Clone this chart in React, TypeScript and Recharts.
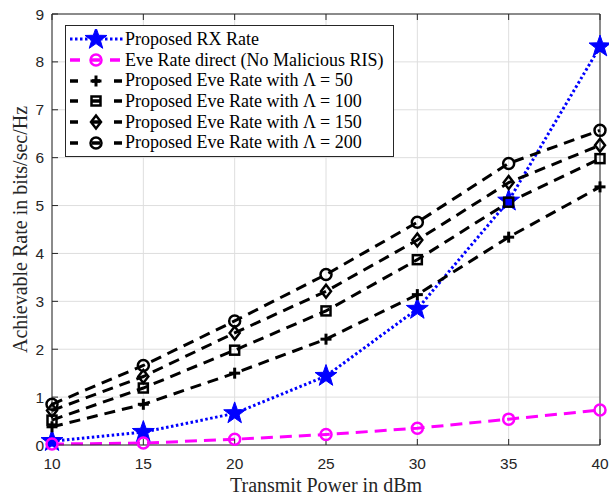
import React from 'react';
import { LineChart, Line, XAxis, YAxis, CartesianGrid, Legend } from 'recharts';

const powers = [10, 15, 20, 25, 30, 35, 40];
const rxRate = [0.08, 0.27, 0.66, 1.44, 2.84, 5.1, 8.32];
const eveDirect = [0.02, 0.04, 0.12, 0.22, 0.35, 0.54, 0.73];
const eve50 = [0.38, 0.85, 1.5, 2.21, 3.14, 4.34, 5.39];
const eve100 = [0.52, 1.19, 1.98, 2.8, 3.87, 5.07, 5.98];
const eve150 = [0.72, 1.43, 2.34, 3.21, 4.28, 5.48, 6.26];
const eve200 = [0.85, 1.66, 2.59, 3.56, 4.65, 5.88, 6.57];

const xTicks = [10, 15, 20, 25, 30, 35, 40];
const yTicks = [0, 1, 2, 3, 4, 5, 6, 7, 8, 9];

const data = powers.map((p, i) => ({
  power: p,
  rx: rxRate[i],
  direct: eveDirect[i],
  e50: eve50[i],
  e100: eve100[i],
  e150: eve150[i],
  e200: eve200[i],
}));

type MarkerKind = 'star' | 'circle' | 'plus' | 'square' | 'diamond';

const Marker = ({ kind, cx, cy, color }: { kind: MarkerKind; cx: number; cy: number; color: string }) => {
  if (kind === 'star') {
    const pts: string[] = [];
    for (let k = 0; k < 10; k++) {
      const r = k % 2 === 0 ? 11.5 : 4.6;
      const a = -Math.PI / 2 + (k * Math.PI) / 5;
      pts.push(`${cx + r * Math.cos(a)},${cy + r * Math.sin(a)}`);
    }
    return <polygon points={pts.join(' ')} fill={color} stroke={color} strokeWidth={1} />;
  }
  if (kind === 'circle') {
    return <circle cx={cx} cy={cy} r={5.5} fill="none" stroke={color} strokeWidth={2.5} />;
  }
  if (kind === 'square') {
    return <rect x={cx - 4.5} y={cy - 4.5} width={9} height={9} fill="none" stroke={color} strokeWidth={2.5} />;
  }
  if (kind === 'diamond') {
    return (
      <polygon
        points={`${cx},${cy - 6.5} ${cx + 5},${cy} ${cx},${cy + 6.5} ${cx - 5},${cy}`}
        fill="none"
        stroke={color}
        strokeWidth={2.5}
      />
    );
  }
  return (
    <g stroke={color} strokeWidth={3}>
      <line x1={cx - 5.5} x2={cx + 5.5} y1={cy} y2={cy} />
      <line x1={cx} x2={cx} y1={cy - 5.5} y2={cy + 5.5} />
    </g>
  );
};

const series = [
  { key: 'rx', name: 'Proposed RX Rate', color: '#0000ff', dash: '2.5 2.5', marker: 'star' as MarkerKind },
  { key: 'direct', name: 'Eve Rate direct (No Malicious RIS)', color: '#ff00ff', dash: '12 7', marker: 'circle' as MarkerKind },
  { key: 'e50', name: 'Proposed Eve Rate with \u039B = 50', color: '#000000', dash: '11 7', marker: 'plus' as MarkerKind },
  { key: 'e100', name: 'Proposed Eve Rate with \u039B = 100', color: '#000000', dash: '11 7', marker: 'square' as MarkerKind },
  { key: 'e150', name: 'Proposed Eve Rate with \u039B = 150', color: '#000000', dash: '11 7', marker: 'diamond' as MarkerKind },
  { key: 'e200', name: 'Proposed Eve Rate with \u039B = 200', color: '#000000', dash: '11 7', marker: 'circle' as MarkerKind },
];

const serif = '"Liberation Serif", "Times New Roman", serif';
const sans = '"Liberation Sans", Arial, sans-serif';
const axisColor = '#262626';

const LegendBox = () => (
  <div
    style={{
      border: '1px solid #262626',
      background: '#fff',
      padding: '3px 10px 3px 2px',
      fontFamily: serif,
      fontSize: 18,
      color: '#000',
    }}
  >
    {series.map((s) => (
      <div key={s.key} style={{ display: 'flex', alignItems: 'center', height: 20.7, whiteSpace: 'nowrap' }}>
        <svg width={57} height={20} style={{ flex: 'none' }}>
          <line
            x1={2}
            x2={55}
            y1={10}
            y2={10}
            stroke={s.color}
            strokeWidth={s.key === 'rx' ? 3 : 3.5}
            strokeDasharray={s.key === 'rx' ? '2.5 2.5' : s.key === 'direct' ? '10 10' : '8 14'}
          />
          <Marker kind={s.marker} cx={28} cy={10} color={s.color} />
        </svg>
        <span>{s.name}</span>
      </div>
    ))}
  </div>
);

export default function App() {
  return (
    <div style={{ position: 'absolute', left: 0, top: 0, width: 609, height: 495, background: '#fff' }}>
      <LineChart width={609} height={495} data={data} margin={{ top: 0, right: 0, bottom: 0, left: 0 }}>
        <CartesianGrid xAxisId="b" yAxisId="l" stroke="#dedede" strokeWidth={1} />
        <XAxis
          xAxisId="b"
          dataKey="power"
          type="number"
          domain={[10, 40]}
          ticks={xTicks}
          height={50}
          stroke={axisColor}
          tickSize={-6}
          tickMargin={19}
          tick={{ fontFamily: sans, fontSize: 15.5, fill: axisColor }}
          label={{ value: 'Transmit Power in dBm', position: 'insideBottom', offset: 3, fontFamily: serif, fontSize: 20, fill: axisColor }}
        />
        <XAxis
          xAxisId="t"
          orientation="top"
          dataKey="power"
          type="number"
          domain={[10, 40]}
          ticks={xTicks}
          height={14}
          stroke={axisColor}
          tickSize={-6}
          tickFormatter={() => ''}
        />
        <YAxis
          yAxisId="l"
          type="number"
          domain={[0, 9]}
          ticks={yTicks}
          width={52}
          stroke={axisColor}
          tickSize={-6}
          tickMargin={14}
          tick={{ fontFamily: sans, fontSize: 15.5, fill: axisColor }}
          label={{
            value: 'Achievable Rate in bits/sec/Hz',
            angle: -90,
            position: 'insideLeft',
            offset: 20,
            style: { textAnchor: 'middle' },
            fontFamily: serif,
            fontSize: 20,
            fill: axisColor,
          }}
        />
        <YAxis
          yAxisId="r"
          orientation="right"
          type="number"
          domain={[0, 9]}
          ticks={yTicks}
          width={9}
          stroke={axisColor}
          tickSize={-6}
          tickFormatter={() => ''}
        />
        <Legend
          layout="vertical"
          align="center"
          verticalAlign="middle"
          wrapperStyle={{ left: 65, top: 25, width: 'auto' }}
          content={() => <LegendBox />}
        />
        {series.map((s) => (
          <Line
            key={s.key}
            xAxisId="b"
            yAxisId="l"
            type="linear"
            dataKey={s.key}
            name={s.name}
            stroke={s.color}
            strokeWidth={3}
            strokeDasharray={s.dash}
            isAnimationActive={false}
            dot={(p: any) => <Marker key={`${s.key}-${p.index}`} kind={s.marker} cx={p.cx} cy={p.cy} color={s.color} />}
            activeDot={false}
          />
        ))}
      </LineChart>
    </div>
  );
}
